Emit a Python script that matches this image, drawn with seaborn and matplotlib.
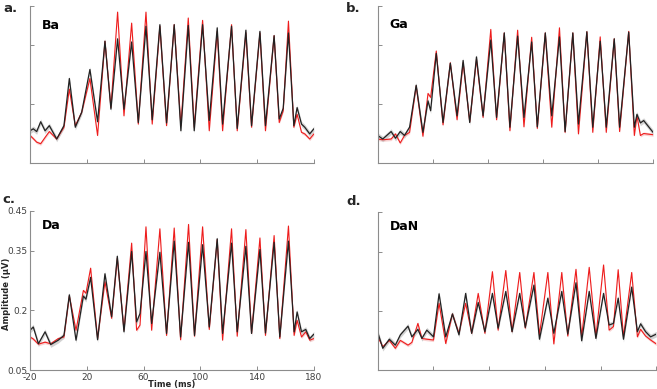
import numpy as np
import pandas as pd
import matplotlib
matplotlib.use("Agg")
import matplotlib.pyplot as plt
import seaborn as sns

# ---- data (time in ms, amplitude in uV) ----
ba_time = [-20, -17.7, -15.3, -12.5, -9.4, -6.4, -1.2, 3.9, 7.7, 11.9, 16.4, 22.2, 27.6,
           32.8, 37.0, 41.7, 46.2, 51.6, 56.3, 61.7, 66.1, 71.5, 76.2, 81.6, 86.3, 91.5,
           95.7, 101.6, 106.3, 111.9, 115.7, 122.0, 126.0, 132.1, 136.1, 142.0, 145.9,
           152.0, 155.6, 158.4, 162.1, 165.9, 168.2, 171.3, 173.6, 177.1, 180]
ba_black = [0.132, 0.137, 0.130, 0.155, 0.132, 0.145, 0.111, 0.145, 0.265, 0.141, 0.179,
            0.288, 0.155, 0.360, 0.187, 0.366, 0.187, 0.358, 0.153, 0.398, 0.160, 0.402,
            0.152, 0.402, 0.132, 0.400, 0.132, 0.402, 0.158, 0.394, 0.149, 0.398, 0.138,
            0.388, 0.145, 0.385, 0.145, 0.374, 0.162, 0.189, 0.381, 0.145, 0.191, 0.149,
            0.141, 0.124, 0.137]
ba_red = [0.120, 0.112, 0.103, 0.099, 0.115, 0.130, 0.111, 0.141, 0.238, 0.145, 0.179,
          0.265, 0.120, 0.360, 0.191, 0.434, 0.170, 0.406, 0.149, 0.434, 0.149, 0.398,
          0.145, 0.402, 0.145, 0.419, 0.141, 0.413, 0.132, 0.385, 0.132, 0.402, 0.132,
          0.381, 0.141, 0.381, 0.132, 0.374, 0.153, 0.183, 0.411, 0.141, 0.174, 0.128,
          0.124, 0.111, 0.124]

ga_time = [-20, -16.4, -10.3, -7.1, -3.7, -0.6, 3.1, 7.9, 12.8, 16.5, 18.4, 22.5, 27.4,
           32.7, 37.6, 42.0, 46.8, 51.7, 56.5, 62.1, 66.3, 71.9, 76.0, 81.6, 86.2, 91.8,
           95.9, 101.7, 106.4, 112.0, 116.1, 121.7, 125.8, 131.9, 136.2, 141.6, 146.0,
           151.8, 155.7, 162.3, 166.4, 168.3, 170.8, 173.2, 180]
ga_black = [0.120, 0.111, 0.130, 0.113, 0.130, 0.120, 0.141, 0.248, 0.128, 0.208, 0.183,
            0.329, 0.153, 0.304, 0.170, 0.311, 0.153, 0.320, 0.170, 0.363, 0.166, 0.381,
            0.141, 0.373, 0.166, 0.358, 0.142, 0.381, 0.170, 0.371, 0.130, 0.381, 0.149,
            0.384, 0.141, 0.360, 0.141, 0.366, 0.141, 0.383, 0.141, 0.174, 0.152, 0.158,
            0.128]
ga_red = [0.111, 0.109, 0.111, 0.124, 0.101, 0.120, 0.128, 0.246, 0.118, 0.227, 0.217,
          0.335, 0.147, 0.305, 0.160, 0.305, 0.155, 0.314, 0.166, 0.390, 0.160, 0.381,
          0.132, 0.388, 0.142, 0.370, 0.138, 0.381, 0.141, 0.394, 0.128, 0.381, 0.124,
          0.384, 0.128, 0.371, 0.128, 0.366, 0.130, 0.385, 0.120, 0.170, 0.120, 0.125,
          0.122]

da_time = [-20, -17.7, -14.1, -9.4, -5.4, -0.1, 3.9, 7.7, 12.4, 17.6, 19.4, 22.7, 27.6,
           32.8, 37.5, 41.5, 46.2, 51.6, 55.1, 57.5, 61.7, 65.7, 71.5, 76.2, 81.6, 86.1,
           91.7, 95.9, 101.6, 106.3, 111.9, 115.7, 122.0, 126.0, 132.1, 136.1, 142.0,
           145.9, 152.0, 156.0, 162.1, 166.1, 168.2, 171.3, 174.3, 177.1, 180]
da_black = [0.150, 0.158, 0.116, 0.146, 0.114, 0.125, 0.137, 0.239, 0.125, 0.236, 0.228,
            0.283, 0.126, 0.292, 0.184, 0.336, 0.146, 0.348, 0.171, 0.192, 0.348, 0.167,
            0.346, 0.142, 0.374, 0.133, 0.371, 0.137, 0.365, 0.158, 0.380, 0.142, 0.369,
            0.146, 0.361, 0.142, 0.353, 0.143, 0.371, 0.133, 0.374, 0.146, 0.196, 0.146,
            0.152, 0.129, 0.140]
da_red = [0.133, 0.128, 0.115, 0.120, 0.116, 0.129, 0.133, 0.236, 0.150, 0.250, 0.243,
          0.306, 0.129, 0.272, 0.180, 0.331, 0.150, 0.369, 0.150, 0.163, 0.410, 0.150,
          0.405, 0.137, 0.407, 0.126, 0.416, 0.135, 0.410, 0.152, 0.378, 0.125, 0.405,
          0.135, 0.403, 0.142, 0.382, 0.137, 0.388, 0.129, 0.412, 0.137, 0.175, 0.133,
          0.146, 0.125, 0.129]

dan_time = [-20, -16.4, -11.7, -7.4, -3.8, 1.7, 4.5, 8.8, 11.7, 15.2, 20.0, 24.0, 28.8,
            33.6, 38.3, 43.1, 47.4, 52.1, 56.9, 62.3, 66.4, 71.9, 76.4, 81.9, 85.9, 92.1,
            96.1, 102.1, 106.4, 112.1, 116.4, 122.3, 126.4, 131.8, 136.6, 142.1, 146.1,
            149.2, 152.6, 156.4, 162.3, 166.4, 168.7, 172.3, 175.9, 180]
dan_black = [0.145, 0.105, 0.128, 0.113, 0.139, 0.161, 0.134, 0.153, 0.130, 0.151, 0.134,
             0.243, 0.134, 0.192, 0.139, 0.244, 0.143, 0.221, 0.147, 0.244, 0.156, 0.249,
             0.147, 0.244, 0.158, 0.265, 0.128, 0.232, 0.143, 0.249, 0.141, 0.271, 0.124,
             0.249, 0.130, 0.244, 0.164, 0.168, 0.232, 0.128, 0.260, 0.147, 0.167, 0.147,
             0.134, 0.141]
dan_red = [0.134, 0.109, 0.125, 0.105, 0.125, 0.113, 0.120, 0.168, 0.130, 0.128, 0.126,
           0.219, 0.117, 0.192, 0.143, 0.219, 0.143, 0.244, 0.143, 0.299, 0.151, 0.302,
           0.147, 0.297, 0.156, 0.297, 0.139, 0.297, 0.116, 0.297, 0.136, 0.305, 0.134,
           0.310, 0.134, 0.316, 0.151, 0.160, 0.304, 0.134, 0.297, 0.134, 0.153, 0.136,
           0.126, 0.116]

black_sem = 0.007
red_sem = 0.004

x_ticks = [-20, 20, 60, 100, 140, 180]
y_ticks = [0.05, 0.2, 0.35, 0.45]
y_ticklabels = ["0.05", "0.2", "0.35", "0.45"]

panels = [
    ("a.", "Ba", ba_time, ba_black, ba_red, [0.0457, 0.581, 0.432, 0.404], 0.853, (0.005, 0.970)),
    ("b.", "Ga", ga_time, ga_black, ga_red, [0.575, 0.581, 0.419, 0.404], 0.857, (0.527, 0.970)),
    ("c.", "Da", da_time, da_black, da_red, [0.0457, 0.0488, 0.432, 0.409], 0.885, (0.004, 0.477)),
    ("d.", "DaN", dan_time, dan_black, dan_red, [0.575, 0.0488, 0.424, 0.406], 0.886, (0.527, 0.473)),
]

sns.set_style("ticks")
plt.rcParams["font.family"] = ["DejaVu Sans"]

fig = plt.figure(figsize=(6.57, 3.89), dpi=100)

for letter, name, t, blk, red, pos, name_y, letter_xy in panels:
    ax = fig.add_axes(pos)
    df = pd.DataFrame({"time": t, "black": blk, "red": red})

    ax.fill_between(df["time"], df["red"] - red_sem, df["red"] + red_sem,
                    color="#f5b5b5", alpha=0.6, linewidth=0)
    ax.fill_between(df["time"], df["black"] - black_sem, df["black"] + black_sem,
                    color="#c8c8c8", alpha=0.8, linewidth=0)
    sns.lineplot(data=df, x="time", y="red", ax=ax, color="#ee1c1c", linewidth=0.8)
    sns.lineplot(data=df, x="time", y="black", ax=ax, color="#222222", linewidth=0.9)

    ax.set_xlim(-20, 180)
    ax.set_ylim(0.05, 0.45)
    ax.set_xticks(x_ticks)
    ax.set_yticks(y_ticks)
    ax.set_xlabel("")
    ax.set_ylabel("")
    sns.despine(ax=ax)
    for side in ["left", "bottom"]:
        ax.spines[side].set_color("#8c8c8c")
        ax.spines[side].set_linewidth(0.8)
    ax.tick_params(direction="in", length=3, width=0.7, color="#8c8c8c",
                   labelsize=6.5, labelcolor="#404040", pad=2)

    if letter == "c.":
        ax.set_yticklabels(y_ticklabels)
        ax.set_xticklabels([str(v) for v in x_ticks])
        ax.set_xlabel("Time (ms)", fontsize=6, fontweight="bold")
        ax.set_ylabel("Amplitude (µV)", fontsize=6, fontweight="bold")
        ax.xaxis.set_label_coords(0.5, -0.065)
        ax.yaxis.set_label_coords(-0.082, 0.48)
        ax.xaxis.label.set_va("top")
        ax.yaxis.label.set_va("center")
    else:
        ax.set_xticklabels([])
        ax.set_yticklabels([])

    ax.text(0.042, name_y, name, transform=ax.transAxes, fontsize=9,
            fontweight="bold", color="black", va="baseline")
    fig.text(letter_xy[0], letter_xy[1], letter, fontsize=9.5, fontweight="bold",
             va="baseline")

fig.savefig("out.png", dpi=100)
